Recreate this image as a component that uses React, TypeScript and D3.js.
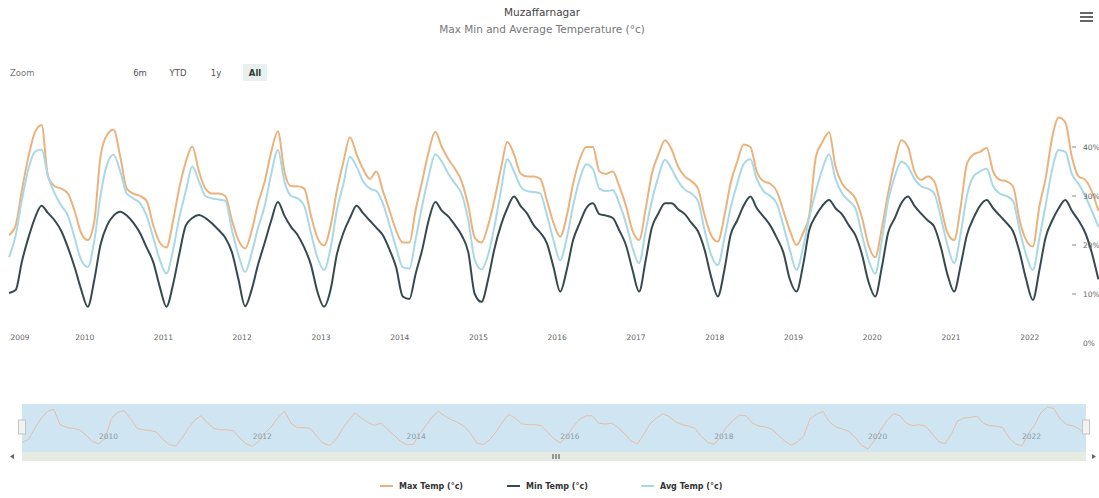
import { useEffect, useRef } from 'react'
import * as d3 from 'd3'

const W = 1099
const H = 498

const years = [2009, 2010, 2011, 2012, 2013, 2014, 2015, 2016, 2017, 2018, 2019, 2020, 2021, 2022]
const navYears = [2010, 2012, 2014, 2016, 2018, 2020, 2022]
const yTicks = [0, 10, 20, 30, 40]
const rangeButtons = ['6m', 'YTD', '1y', 'All']
const seriesNames = ['Max Temp (°c)', 'Min Temp (°c)', 'Avg Temp (°c)']
const seriesColors = ['#ecb27c', '#36494d', '#a9d8e6']

// monthly values, Jan 2009 .. Nov 2022
const maxTemp = [
  22, 24, 31, 38, 43, 44.5, 34, 32, 31.5, 30.5, 27, 22.5, // 2009
  21, 25, 38, 42.5, 43.5, 38, 31.5, 30.5, 30, 29, 24, 20.5, // 2010
  19.5, 25, 31.5, 37, 40.1, 35, 31.5, 30.5, 30.5, 30, 25, 21, // 2011
  19.3, 23, 28.5, 33, 39, 43.2, 35, 32, 32, 31.5, 26, 21.5, // 2012
  19.9, 24, 31, 37, 42, 38.5, 35.5, 33.5, 35, 31, 27, 23, // 2013
  20.5, 20.5, 27, 33, 39, 43.1, 40, 37.5, 35.5, 33, 28, 21.5, // 2014
  20.5, 24, 29, 35.5, 41, 38.5, 34.6, 34, 34, 33.5, 29, 24.5, // 2015
  21.7, 26, 32.5, 37.5, 40, 40, 35, 34.5, 35, 32, 28, 23, // 2016
  21, 27.5, 34.5, 38.5, 41.4, 39.5, 36, 34, 33, 31.5, 26, 22, // 2017
  20.7, 26, 32.5, 37, 40.5, 40, 35, 33, 32.5, 31, 27, 23, // 2018
  20, 22.5, 26, 38, 41, 43, 36, 32.5, 31, 29.5, 25.5, 20, // 2019
  17.5, 23.5, 30.5, 37, 41.4, 40, 35, 33.3, 34, 33, 27.8, 22.5, // 2020
  21, 28, 36.5, 38.5, 39, 39.8, 35, 33.3, 33, 32, 25, 21, // 2021
  19.7, 28, 33.5, 42, 46, 45, 38, 34, 33.3, 31, 27, // 2022
]

const minTemp = [
  10.2, 10.8, 16.5, 21.5, 25.5, 28, 26.5, 25, 22.8, 19.5, 15.5, 11,
  7.4, 13, 20, 24, 26, 26.8, 26, 24.5, 22.4, 19.5, 16.5, 11.5,
  7.4, 12, 18, 24, 25.5, 26.1, 25.5, 24.4, 23, 21.5, 18.5, 13,
  7.5, 11, 16, 20.5, 25, 28.8, 26, 23.7, 22, 19.5, 16, 10.5,
  7.4, 11, 18, 22.5, 25.5, 28, 26.5, 25, 23.5, 22, 19, 15.5,
  9.5, 9, 14, 19, 25, 28.8, 27, 25.8, 24, 22, 18.5, 10,
  8.4, 13, 19, 24, 27.5, 29.9, 28, 26.4, 24, 22.5, 20.3, 15.5,
  10.5, 15, 21, 24.5, 27.5, 28.5, 26.3, 26, 25.5, 23, 20, 15,
  10.5, 17, 23.5, 26.5, 28.5, 28.5, 27.3, 26.3, 24.5, 22.8, 19, 13.5,
  9.5, 15, 22, 25, 28, 29.9, 27.5, 25.8, 24, 21.5, 18.5, 13,
  10.5, 16, 23, 26, 28, 29.2, 27.5, 26.2, 24, 22, 18, 12.5,
  9.5, 15.5, 22.5, 25.5, 28.5, 29.9, 28, 26.4, 25, 23.7, 19.5, 14,
  10.5, 16, 22, 25.5, 28, 29.2, 27.5, 26, 24.5, 22.8, 18.5, 13,
  8.8, 15, 21.5, 25, 27.5, 29.2, 27, 25, 22.5, 18.5, 13,
]

const avgTemp = [
  17.5, 22, 29, 35.5, 39, 39.5, 34, 30.5, 28, 26, 21.5, 17,
  15.5, 21, 30, 36.5, 38.4, 35, 30.5, 29.5, 28.5, 26, 21.5, 17,
  14.2, 19, 25.5, 31, 36, 33, 30, 29.5, 29.3, 29, 23, 18,
  14.5, 18.5, 23.5, 28, 34.5, 39.4, 33, 30, 29.5, 28, 22.5, 17.5,
  14.9, 19.5, 27, 32.5, 38, 36, 33, 31.5, 31, 28.5, 24, 19.5,
  15.5, 15.2, 21, 28, 34, 38.5, 37, 34.5, 32.5, 30.5, 25, 17,
  15, 18, 23.5, 31, 37.5, 35, 32, 31, 30.8, 30.5, 26, 21,
  16.9, 21.5, 28, 33.5, 36.5, 35.5, 31.5, 31, 31.2, 28.5, 24.5, 19.5,
  16.3, 23, 29, 34, 37.4, 35.5, 33, 31.3, 30.5, 29, 23, 18,
  15.9, 21.5, 27.5, 32.5, 36.5, 37.5, 33.5, 31, 30, 28.5, 24, 19,
  14.9, 19.5, 25.5, 31, 35.5, 38.5, 33.5, 30.5, 29, 27.5, 22, 17,
  14.2, 21, 29, 34, 37, 36, 33.5, 32, 31.5, 30.5, 25.5, 20,
  16.3, 22.5, 30, 34, 35, 35.6, 32, 30.5, 30, 29, 23, 18,
  14.9, 21.5, 28, 35.5, 39.4, 39, 34.5, 32.5, 30, 27, 23.7,
]

const months = maxTemp.map((_, i) => new Date(2009, i, 15))

export default function App() {
  const svgRef = useRef<SVGSVGElement>(null)

  useEffect(() => {
    document.body.style.margin = '0'
    if (!svgRef.current) return
    const font = "'DejaVu Sans', Verdana, sans-serif"
    const svg = d3.select(svgRef.current)
    svg.selectAll('*').remove()

    svg.append('rect').attr('width', W).attr('height', H).attr('fill', '#fff')

    // title + subtitle
    svg.append('text').attr('x', 542).attr('y', 16).attr('text-anchor', 'middle')
      .attr('font-family', font).attr('font-size', 10.5).attr('fill', '#444').text('Muzaffarnagar')
    svg.append('text').attr('x', 542).attr('y', 33).attr('text-anchor', 'middle')
      .attr('font-family', font).attr('font-size', 10.5).attr('fill', '#777')
      .text('Max  Min and Average Temperature (°c)')

    // hamburger
    ;[13, 17, 21].forEach(yy => {
      svg.append('line').attr('x1', 1080).attr('x2', 1093).attr('y1', yy).attr('y2', yy)
        .attr('stroke', '#666').attr('stroke-width', 2)
    })

    // range selector
    svg.append('text').attr('x', 10).attr('y', 76).attr('font-family', font)
      .attr('font-size', 8.5).attr('fill', '#777').text('Zoom')
    const btnX = [140, 178, 216, 255]
    svg.append('rect').attr('x', 243).attr('y', 64).attr('width', 24).attr('height', 17)
      .attr('fill', '#e9f1ee')
    rangeButtons.forEach((b, i) => {
      svg.append('text').attr('x', btnX[i]).attr('y', 76).attr('text-anchor', 'middle')
        .attr('font-family', font).attr('font-size', 8.5)
        .attr('font-weight', b === 'All' ? 'bold' : 'normal')
        .attr('fill', b === 'All' ? '#2b3b33' : '#555').text(b)
    })

    // main plot
    const x = d3.scaleTime().domain([new Date(2009, 0, 1), new Date(2023, 0, 1)]).range([6, 1108.5])
    const y = d3.scaleLinear().domain([0, 40]).range([343, 147])

    svg.append('clipPath').attr('id', 'plotclip').append('rect')
      .attr('x', 6).attr('y', 95).attr('width', 1093).attr('height', 240)

    const line = d3.line<number>()
      .x((_, i) => x(months[i]))
      .y(d => y(d))
      .curve(d3.curveMonotoneX)

    const plot = svg.append('g').attr('clip-path', 'url(#plotclip)')
    ;[maxTemp, minTemp, avgTemp].forEach((s, i) => {
      plot.append('path').datum(s).attr('d', line).attr('fill', 'none')
        .attr('stroke', seriesColors[i]).attr('stroke-width', 2).attr('stroke-linejoin', 'round')
    })

    // x axis labels
    years.forEach(yr => {
      const tx = Math.max(x(new Date(yr, 0, 1)), 20)
      svg.append('text').attr('x', tx).attr('y', 340).attr('text-anchor', 'middle')
        .attr('font-family', font).attr('font-size', 7.5).attr('fill', '#666').text(String(yr))
    })

    // y axis labels (right, inside)
    yTicks.forEach(v => {
      if (v > 0) {
        svg.append('line').attr('x1', 1072).attr('x2', 1076).attr('y1', y(v)).attr('y2', y(v))
          .attr('stroke', '#888').attr('stroke-width', 1)
      }
      svg.append('text').attr('x', 1083).attr('y', y(v) + 3).attr('font-family', font)
        .attr('font-size', 7.5).attr('fill', '#666').text(`${v}%`)
    })

    // navigator
    const nx = d3.scaleTime().domain([months[0], months[months.length - 1]]).range([22, 1086])
    const ext = d3.extent(maxTemp) as [number, number]
    const ny = d3.scaleLinear().domain(ext).range([449, 407])
    svg.append('rect').attr('x', 22).attr('y', 404).attr('width', 1064).attr('height', 48)
      .attr('fill', '#cfe6f2')
    const nline = d3.line<number>().x((_, i) => nx(months[i])).y(d => ny(d))
    svg.append('path').datum(maxTemp).attr('d', nline).attr('fill', 'none')
      .attr('stroke', '#e6bcaa').attr('stroke-width', 1)
    navYears.forEach(yr => {
      svg.append('text').attr('x', nx(new Date(yr, 0, 1)) + 3).attr('y', 439)
        .attr('font-family', font).attr('font-size', 7.5).attr('fill', '#8a9aa6').text(String(yr))
    })
    // handles
    ;[22, 1086].forEach(hx => {
      svg.append('rect').attr('x', hx - 3.5).attr('y', 420).attr('width', 7).attr('height', 14)
        .attr('fill', '#f2f2f2').attr('stroke', '#c4c4c4').attr('stroke-width', 1)
    })

    // scrollbar
    svg.append('rect').attr('x', 22).attr('y', 452).attr('width', 1064).attr('height', 9)
      .attr('fill', '#e5ebe3')
    ;[-1.5, 0, 1.5].forEach(d => {
      svg.append('line').attr('x1', 556 + d * 2).attr('x2', 556 + d * 2).attr('y1', 454).attr('y2', 459)
        .attr('stroke', '#444').attr('stroke-width', 1)
    })
    svg.append('path').attr('d', 'M14,454 L10,456.5 L14,459 Z').attr('fill', '#666')
    svg.append('path').attr('d', 'M1092,454 L1096,456.5 L1092,459 Z').attr('fill', '#666')

    // legend
    const legX = [380, 507, 641]
    seriesNames.forEach((n, i) => {
      svg.append('line').attr('x1', legX[i]).attr('x2', legX[i] + 13).attr('y1', 486).attr('y2', 486)
        .attr('stroke', seriesColors[i]).attr('stroke-width', 2)
      svg.append('text').attr('x', legX[i] + 19).attr('y', 489).attr('font-family', font)
        .attr('font-size', 8).attr('font-weight', 'bold').attr('fill', '#333').text(n)
    })
  }, [])

  return <svg ref={svgRef} width={W} height={H} style={{ display: 'block' }} />
}
